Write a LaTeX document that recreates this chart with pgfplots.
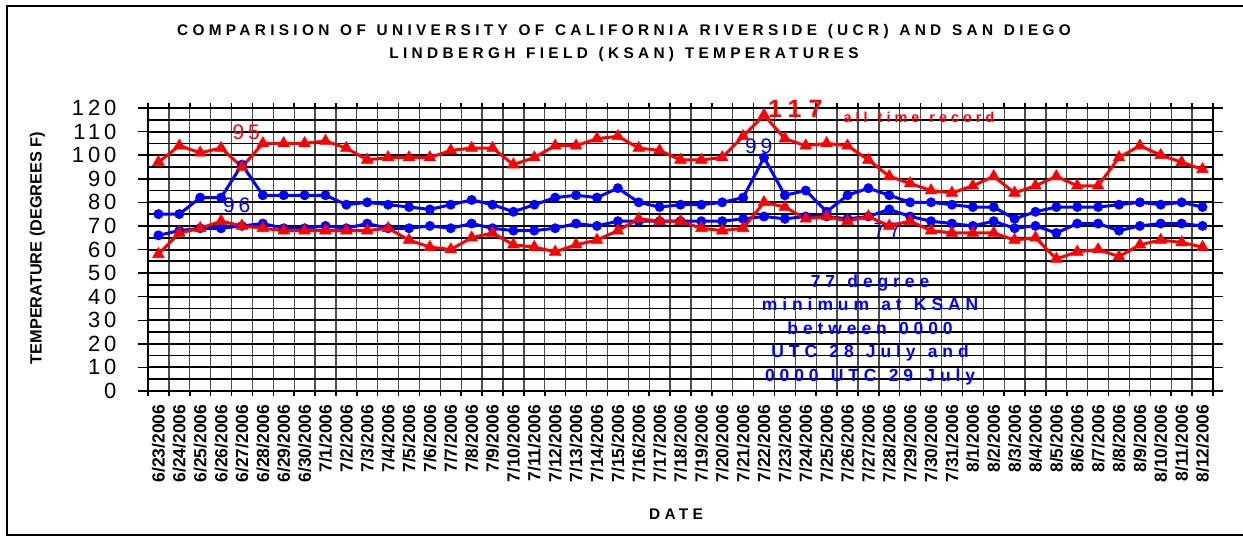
\documentclass[border=0pt]{standalone}
\usepackage{pgfplots}
\pgfplotsset{compat=1.18}
\usepackage{fontspec}
\setmainfont{Liberation Sans}
\newfontfamily\spaced[LetterSpace=28,WordSpace=1.25]{Liberation Sans}
\newfontfamily\numfont[LetterSpace=18]{Liberation Sans}
\definecolor{xlred}{RGB}{255,0,0}
\definecolor{xlblue}{RGB}{0,0,255}

\begin{document}
\begin{tikzpicture}
\useasboundingbox (0pt,0pt) rectangle (1243pt,550pt);
\fill[white] (0pt,0pt) rectangle (1243pt,550pt);
\draw[line width=1.5pt] (1250pt,544pt) -- (7pt,544pt) -- (7pt,15pt) -- (1250pt,15pt);
\begin{axis}[
  at={(148pt,159pt)}, anchor=south west,
  scale only axis, width=1065pt, height=283pt,
  xmin=-0.5, xmax=50.5, ymin=0, ymax=120,
  xtick={0,...,50},
  xticklabels={6/23/2006,6/24/2006,6/25/2006,6/26/2006,6/27/2006,6/28/2006,6/29/2006,6/30/2006,
    7/1/2006,7/2/2006,7/3/2006,7/4/2006,7/5/2006,7/6/2006,7/7/2006,7/8/2006,7/9/2006,7/10/2006,
    7/11/2006,7/12/2006,7/13/2006,7/14/2006,7/15/2006,7/16/2006,7/17/2006,7/18/2006,7/19/2006,
    7/20/2006,7/21/2006,7/22/2006,7/23/2006,7/24/2006,7/25/2006,7/26/2006,7/27/2006,7/28/2006,
    7/29/2006,7/30/2006,7/31/2006,8/1/2006,8/2/2006,8/3/2006,8/4/2006,8/5/2006,8/6/2006,8/7/2006,
    8/8/2006,8/9/2006,8/10/2006,8/11/2006,8/12/2006},
  minor xtick={-0.5,0.5,...,50.5},
  ytick={0,10,...,120},
  minor ytick={5,15,...,115},
  xminorgrids=true, ymajorgrids=true, yminorgrids=true,
  tick align=outside,
  major tick length=10pt, minor tick length=5pt,
  major x tick style={draw=none},
  minor y tick style={draw=none},
  y tick style={line width=1.5pt, black},
  minor x tick style={line width=1.5pt, black},
  axis line style={line width=2pt, black},
  minor x grid style={draw=black!70, line width=1.3pt},
  major y grid style={draw=black, line width=2pt},
  minor y grid style={draw=black, line width=1.6pt},
  xticklabel style={rotate=90, anchor=east, font=\bfseries\fontsize{17.5}{17.5}\selectfont},
  yticklabel style={font=\numfont\fontsize{22}{22}\selectfont, xshift=-18pt},
  /pgf/number format/assume math mode=true,
  clip=false,
]
\node[text=xlblue, font=\numfont\fontsize{21}{21}\selectfont] at (axis cs:34.9,68.3) {77};

\addplot[xlblue, line width=3pt, mark=*, mark size=4.7pt, mark options={line width=0.5pt}] coordinates {
(0,75)(1,75)(2,82)(3,82)(4,96)(5,83)(6,83)(7,83)(8,83)(9,79)(10,80)(11,79)(12,78)(13,77)(14,79)(15,81)(16,79)(17,76)(18,79)(19,82)(20,83)(21,82)(22,86)(23,80)(24,78)(25,79)(26,79)(27,80)(28,82)(29,99)(30,83)(31,85)(32,76)(33,83)(34,86)(35,83)(36,80)(37,80)(38,79)(39,78)(40,78)(41,73)(42,76)(43,78)(44,78)(45,78)(46,79)(47,80)(48,79)(49,80)(50,78)};
\addplot[xlblue, line width=3pt, mark=*, mark size=4.7pt, mark options={line width=0.5pt}] coordinates {
(0,66)(1,68)(2,69)(3,69)(4,70)(5,71)(6,69)(7,69)(8,70)(9,69)(10,71)(11,69)(12,69)(13,70)(14,69)(15,71)(16,69)(17,68)(18,68)(19,69)(20,71)(21,70)(22,72)(23,72)(24,72)(25,72)(26,72)(27,72)(28,73)(29,74)(30,73)(31,74)(32,74)(33,73)(34,74)(35,77)(36,74)(37,72)(38,71)(39,70)(40,72)(41,69)(42,70)(43,67)(44,71)(45,71)(46,68)(47,70)(48,71)(49,71)(50,70)};
\addplot[xlred, line width=3pt, mark=triangle*, mark size=6.8pt, mark options={line width=0.5pt}] coordinates {
(0,97)(1,104)(2,101)(3,103)(4,95)(5,105)(6,105)(7,105)(8,106)(9,103)(10,98)(11,99)(12,99)(13,99)(14,102)(15,103)(16,103)(17,96)(18,99)(19,104)(20,104)(21,107)(22,108)(23,103)(24,102)(25,98)(26,98)(27,99)(28,108)(29,117)(30,107)(31,104)(32,105)(33,104)(34,98)(35,91)(36,88)(37,85)(38,84)(39,87)(40,91)(41,84)(42,87)(43,91)(44,87)(45,87)(46,99)(47,104)(48,100)(49,97)(50,94)};
\addplot[xlred, line width=3pt, mark=triangle*, mark size=6.8pt, mark options={line width=0.5pt}] coordinates {
(0,58)(1,67)(2,69)(3,72)(4,70)(5,69)(6,68)(7,68)(8,68)(9,68)(10,68)(11,69)(12,64)(13,61)(14,60)(15,65)(16,67)(17,62)(18,61)(19,59)(20,62)(21,64)(22,68)(23,73)(24,72)(25,72)(26,69)(27,68)(28,69)(29,80)(30,78)(31,73)(32,74)(33,72)(34,74)(35,70)(36,72)(37,68)(38,67)(39,67)(40,67)(41,64)(42,65)(43,56)(44,59)(45,60)(46,57)(47,62)(48,64)(49,63)(50,61)};

\node[text=xlred, font=\numfont\fontsize{21}{21}\selectfont] at (axis cs:4.2,109.8) {95};
\node[text=xlblue, font=\numfont\fontsize{21}{21}\selectfont] at (axis cs:3.75,78.9) {96};
\node[text=xlblue, font=\numfont\fontsize{21}{21}\selectfont] at (axis cs:28.75,103.9) {99};
\node[text=xlred, font=\spaced\bfseries\fontsize{25}{25}\selectfont] at (axis cs:30.5,119.6) {117};
\node[text=xlred, anchor=west, inner sep=0pt, font=\spaced\bfseries\fontsize{14.4}{14.4}\selectfont] at (axis cs:32.8,116.2) {all time record};
\node[text=xlblue, align=center, font=\spaced\bfseries\fontsize{17.5}{23.5}\selectfont] at (axis cs:34.08,25.9)
  {77 degree\\minimum at KSAN\\between 0000\\UTC 28 July and\\0000 UTC 29 July};
\end{axis}
\node[font=\spaced\bfseries\fontsize{15.4}{17}\selectfont] at (624pt,518pt) {COMPARISION OF UNIVERSITY OF CALIFORNIA RIVERSIDE (UCR) AND SAN DIEGO};
\node[font=\spaced\bfseries\fontsize{15.4}{17}\selectfont] at (624pt,495pt) {LINDBERGH FIELD (KSAN) TEMPERATURES};
\node[rotate=90, font=\bfseries\fontsize{16.3}{17}\selectfont] at (37.5pt,302pt) {TEMPERATURE (DEGREES F)};
\node[font=\spaced\bfseries\fontsize{15.4}{17}\selectfont] at (676pt,36pt) {DATE};
\end{tikzpicture}
\end{document}
